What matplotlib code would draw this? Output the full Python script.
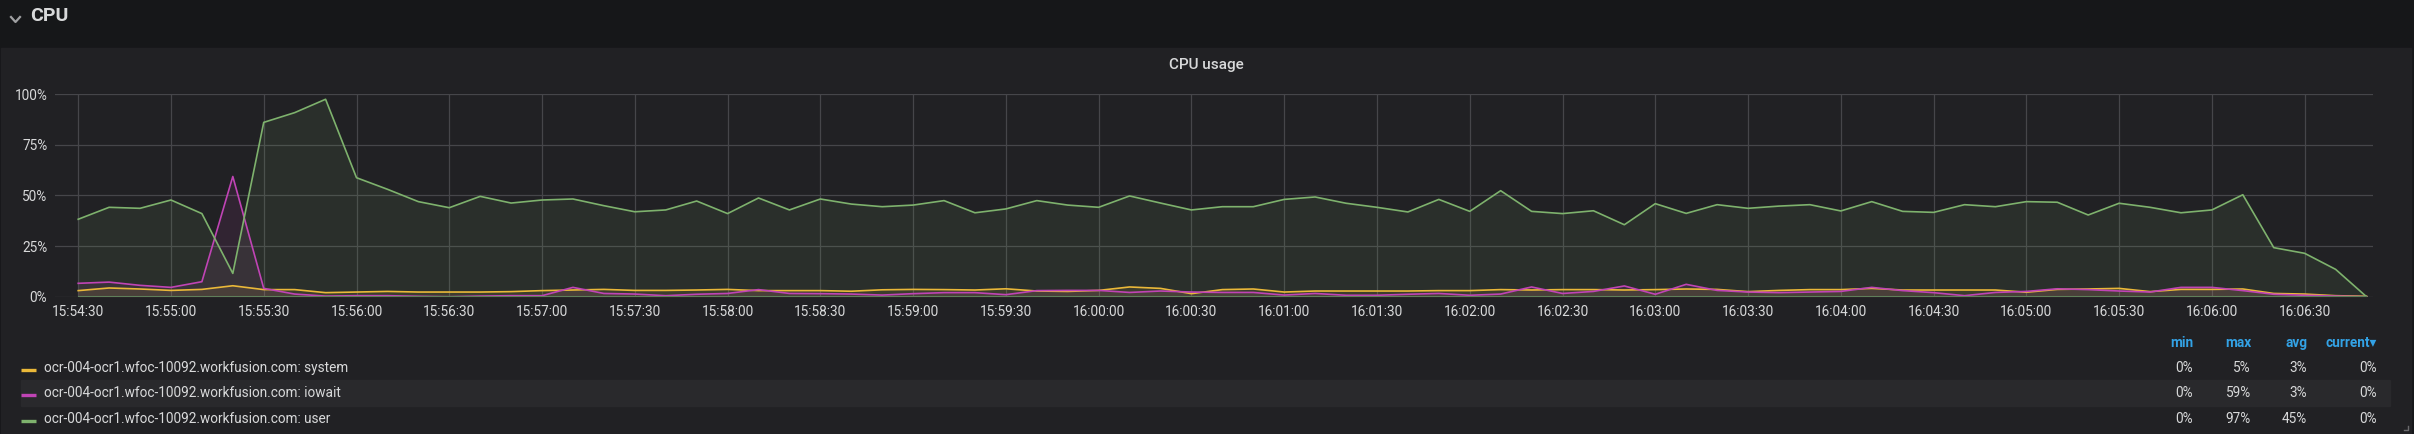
import matplotlib.pyplot as plt
import matplotlib.dates as mdates
from matplotlib.patches import Rectangle
from matplotlib.lines import Line2D
import numpy as np

plt.rcParams['font.family'] = ['Roboto', 'DejaVu Sans']

# samples every 10 s starting 15:54:30
t0 = np.datetime64('2020-01-01T15:54:30')
times = t0 + np.arange(75) * np.timedelta64(10, 's')

user = [38.2, 44.1, 43.6, 47.7, 41.0, 11.5, 86.0, 90.8, 97.4, 58.7,
        53.0, 46.9, 43.9, 49.5, 46.2, 47.7, 48.2, 44.9, 41.9, 42.8,
        47.2, 41.0, 48.7, 42.8, 48.2, 45.7, 44.4, 45.2, 47.4, 41.4,
        43.3, 47.4, 45.2, 44.1, 49.7, 46.2, 42.8, 44.4, 44.4, 48.0,
        49.2, 46.1, 44.1, 41.8, 48.0, 42.1, 52.3, 42.1, 41.0, 42.4,
        35.5, 45.9, 41.1, 45.4, 43.6, 44.7, 45.4, 42.3, 46.9, 42.1,
        41.6, 45.4, 44.4, 46.9, 46.6, 40.3, 46.1, 44.1, 41.4, 42.8,
        50.3, 24.2, 21.4, 13.5, 0.0]
iowait = [6.6, 7.2, 5.6, 4.6, 7.4, 59.3, 4.1, 1.3, 0.3, 0.5,
          0.5, 0.2, 0.0, 0.3, 0.5, 0.5, 4.6, 1.6, 1.3, 0.5,
          1.2, 1.6, 3.5, 1.6, 1.5, 1.3, 0.8, 1.5, 2.0, 2.0,
          1.0, 3.0, 3.1, 3.1, 2.1, 2.8, 2.3, 2.1, 2.1, 0.8,
          1.6, 0.7, 0.7, 1.2, 1.6, 0.7, 1.3, 4.8, 1.6, 2.6,
          5.3, 1.2, 6.1, 3.1, 2.3, 2.0, 2.3, 2.6, 4.6, 3.0,
          2.0, 0.5, 2.1, 2.6, 3.9, 3.5, 2.8, 2.3, 4.6, 4.6,
          3.0, 1.2, 0.7, 0.3, 0.0]
system = [3.0, 4.3, 3.8, 3.1, 3.6, 5.4, 3.5, 3.5, 2.0, 2.3,
          2.6, 2.3, 2.3, 2.3, 2.5, 3.0, 3.3, 3.6, 3.1, 3.1,
          3.3, 3.6, 3.0, 3.0, 3.0, 2.7, 3.4, 3.6, 3.5, 3.3,
          3.9, 2.8, 2.6, 3.1, 4.8, 4.1, 1.5, 3.5, 3.8, 2.3,
          2.8, 2.8, 2.8, 2.8, 3.0, 3.0, 3.5, 3.3, 3.5, 3.5,
          3.3, 3.5, 3.8, 3.6, 2.5, 3.1, 3.5, 3.5, 4.1, 3.3,
          3.3, 3.3, 3.3, 2.2, 3.6, 3.8, 4.1, 2.5, 3.6, 3.6,
          3.8, 1.6, 1.3, 0.5, 0.2]

host = 'ocr-004-ocr1.wfoc-10092.workfusion.com'
names = ['system', 'iowait', 'user']
series = [system, iowait, user]
colors = ['#EAB839', '#C044B5', '#7EB26D']
stat_names = ['min', 'max', 'avg', 'current']

W, H = 2414, 434
txt = '#d8d9da'

fig = plt.figure(figsize=(W / 100, H / 100), dpi=100, facecolor='#161719')

def fx(px):
    return px / W

def fy(py):
    return 1 - py / H

# panel background
fig.patches.append(Rectangle((fx(1), 0), fx(2410), fy(48), transform=fig.transFigure,
                             color='#212124', zorder=-2))

# row header
fig.text(fx(30), fy(16), 'CPU', fontsize=14, fontweight='bold', color=txt, va='center')
fig.add_artist(Line2D([fx(11), fx(15.5), fx(20)], [fy(17), fy(22), fy(17)],
                      color='#9fa0a2', lw=1.6))
fig.text(fx(1206), fy(65), 'CPU usage', fontsize=11, fontweight='medium', color=txt,
         ha='center', va='center')

ax = fig.add_axes([fx(55), fy(296.7), fx(2372.7 - 55), (296.7 - 94) / H])
ax.set_facecolor('none')
for s in ax.spines.values():
    s.set_visible(False)

for vals, c in zip(series, colors):
    ax.fill_between(times, vals, 0, color=c, alpha=0.1, lw=0)
    ax.plot(times, vals, color=c, lw=1.2)
ax.hlines(0, times[0], times[-1], color='#5f7f5a', lw=1.5)

ax.set_xlim(t0 - np.timedelta64(7500, 'ms'), t0 + np.timedelta64(742, 's'))
ax.set_ylim(0, 100)
ax.set_yticks([0, 25, 50, 75, 100])
ax.set_yticklabels([f'{v}%' for v in [0, 25, 50, 75, 100]])
ax.xaxis.set_major_locator(mdates.SecondLocator(bysecond=[0, 30]))
ax.xaxis.set_major_formatter(mdates.DateFormatter('%H:%M:%S'))
ax.tick_params(axis='both', length=0, labelsize=9.8, labelcolor=txt)
ax.tick_params(axis='y', pad=5.5)
ax.tick_params(axis='x', pad=6)
ax.grid(True, color='#46464a', lw=0.9)
ax.set_axisbelow(True)

# legend table
fig.patches.append(Rectangle((fx(21), fy(406)), fx(2390 - 21), 26 / H,
                             transform=fig.transFigure, color='#29292c', zorder=-1))
col_x = [2193, 2251, 2307, 2377]
for k, name in enumerate(stat_names):
    label = name + '\u25be' if name == 'current' else name
    fig.text(fx(col_x[k]), fy(343), label, fontsize=9.8, fontweight='bold',
             color='#33a2e5', ha='right', va='center')

row_y = [368, 393, 419]
for r, (name, vals, c) in enumerate(zip(names, series, colors)):
    y = row_y[r]
    fig.add_artist(Line2D([fx(21), fx(36)], [fy(y + 1.5), fy(y + 1.5)], color=c, lw=2.4,
                          solid_capstyle='butt'))
    fig.text(fx(44), fy(y), f'{host}: {name}', fontsize=9.8, color=txt, va='center')
    stats = [min(vals), max(vals), np.mean(vals), vals[-1]]
    for k, v in enumerate(stats):
        fig.text(fx(col_x[k]), fy(y), f'{v:.0f}%', fontsize=9.8, color=txt,
                 ha='right', va='center')

# resize handle
fig.add_artist(Line2D([fx(2404), fx(2408), fx(2408)], [fy(430), fy(430), fy(426)],
                      color='#6b6b6e', lw=1))

fig.savefig('out.png', dpi=100, facecolor=fig.get_facecolor())
